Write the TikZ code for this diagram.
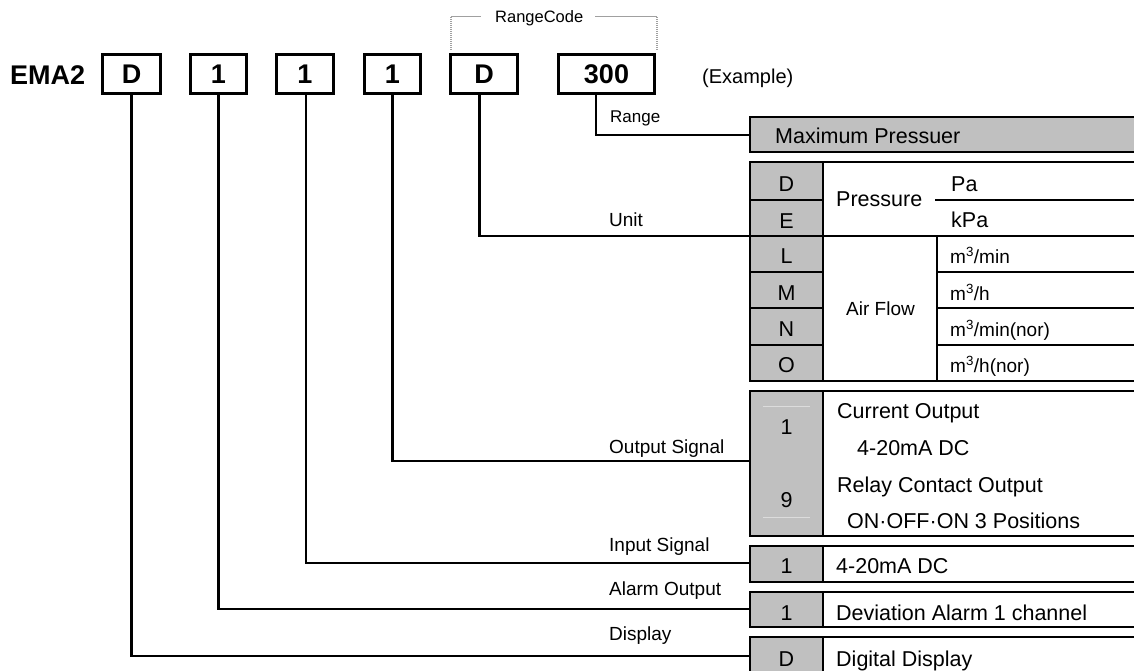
\documentclass[tikz,border=0pt]{standalone}
\usepackage{fontspec}
\setmainfont{Liberation Sans}
\newcommand\fsz[1]{\fontsize{#1}{#1}\selectfont}
\definecolor{tabgray}{HTML}{C0C0C0}
\definecolor{faint}{HTML}{DCDCDC}
\definecolor{brkgray}{HTML}{A0A0A0}
\begin{document}
\begin{tikzpicture}[x=1pt,y=-1pt,
  topbox/.style={draw, line width=3.3pt, inner sep=0pt, font=\bfseries\fsz{27}},
  conn/.style={line width=2.3pt},
  tl/.style={line width=2.4pt},
  lbl/.style={anchor=base west, inner sep=0pt, font=\fsz{19}},
  cell/.style={anchor=base west, inner sep=0pt, font=\fsz{21.5}},
  codetxt/.style={anchor=base, inner sep=0pt, font=\fsz{21.5}},
  unit/.style={anchor=base west, inner sep=0pt, font=\fsz{19}},
  brk/.style={brkgray, line width=1pt},
  brkdot/.style={brkgray, line width=1.6pt, dash pattern=on 1pt off 1pt}]
\useasboundingbox (0,0) rectangle (1134,671);
\fill[white] (0,0) rectangle (1134,671);

% ---------- model code row ----------
\node[anchor=base west, inner sep=0pt, font=\bfseries\fsz{27}] (ema) at (10,85) {EMA2};
\node[topbox, minimum width=58pt, minimum height=39pt] (bA) at (131.5,74) {D};
\node[topbox, minimum width=56pt, minimum height=39pt] (bB) at (218.5,74) {1};
\node[topbox, minimum width=57pt, minimum height=39pt] (bC) at (305,74) {1};
\node[topbox, minimum width=56pt, minimum height=39pt] (bD) at (392.5,74) {1};
\node[topbox, minimum width=67pt, minimum height=39pt] (bE) at (484,74) {D};
\node[topbox, minimum width=96pt, minimum height=39pt] (bF) at (606.5,74) {300};
\node[anchor=base west, inner sep=0pt, font=\fsz{20}] (ex) at (702,84) {(Example)};

% ---------- RangeCode bracket ----------
\node[anchor=base west, inner sep=0pt, font=\fsz{16.5}] (rc) at (495,23) {RangeCode};
\coordinate (rl) at (451,50);
\coordinate (rr) at (657,50);
\draw[brkdot] (rl) -- (451,17);
\draw[brk] (451,17) -- ([xshift=-14pt]rc.west |- 451,17);
\draw[brk] ([xshift=12pt]rc.east |- 451,17) -- (657,17);
\draw[brkdot] (657,17) -- (rr);

% ---------- entry points of the table ----------
\coordinate (eRange) at (750,135);
\coordinate (eUnit) at (750,236);
\coordinate (eOut) at (750,461);
\coordinate (eIn) at (750,563);
\coordinate (eAlarm) at (750,609);
\coordinate (eDisp) at (750,656);

% ---------- Range: maximum pressure ----------
\fill[tabgray] (750,117) rectangle (1140,152);
\draw[tl] (1140,117) -- (750,117) -- (750,152) -- (1140,152);
\node[cell] (maxp) at (775,144) {Maximum Pressuer};

% ---------- Unit table ----------
\fill[tabgray] (750,162) rectangle (823,381);
\draw[tl] (1140,162) -- (750,162) -- (750,381) -- (1140,381);
\draw[tl] (823,162) -- (823,381);
\draw[tl] (750,236) -- (1140,236);
\foreach \yy in {200,272,308,345} \draw[tl] (750,\yy) -- (823,\yy);
\draw[tl] (935,200) -- (1140,200);
\draw[tl] (937,236) -- (937,381);
\foreach \yy in {272,308,345} \draw[tl] (937,\yy) -- (1140,\yy);
\node[codetxt] (cD) at (786.5,192) {D};
\node[codetxt] (cE) at (786.5,228) {E};
\node[codetxt] (cL) at (786.5,263) {L};
\node[codetxt] (cM) at (786.5,300.5) {M};
\node[codetxt] (cN) at (786.5,336.5) {N};
\node[codetxt] (cO) at (786.5,372.5) {O};
\node[cell] (press) at (836,207) {Pressure};
\node[cell] (pa) at (951,191.5) {Pa};
\node[cell] (kpa) at (951,227) {kPa};
\node[unit] (air) at (846,315) {Air Flow};
\node[unit] (u1) at (950,263) {m\textsuperscript{3}/min};
\node[unit] (u2) at (950,300) {m\textsuperscript{3}/h};
\node[unit] (u3) at (950,336) {m\textsuperscript{3}/min(nor)};
\node[unit] (u4) at (950,372) {m\textsuperscript{3}/h(nor)};

% ---------- Output signal table ----------
\fill[tabgray] (750,391) rectangle (823,536);
\draw[tl] (1140,391) -- (750,391) -- (750,536);
\draw[tl] (749,536) -- (1140,536);
\draw[tl] (823,391) -- (823,536);
\draw[faint, line width=1pt] (763,406) -- (810,406);
\draw[faint, line width=1pt] (763,517) -- (810,517);
\node[codetxt] (o1) at (786.5,434) {1};
\node[codetxt] (o9) at (786.5,507) {9};
\node[cell] (co1) at (837,418) {Current Output};
\node[cell] (co2) at (857,455) {4-20mA DC};
\node[cell] (rc1) at (837,492) {Relay Contact Output};
\node[cell] (rc2) at (847,528) {ON·OFF·ON 3 Positions};

% ---------- Input signal ----------
\fill[tabgray] (750,546) rectangle (823,582);
\draw[tl] (1140,546) -- (750,546) -- (750,582);
\draw[tl] (749,582) -- (1140,582);
\draw[tl] (823,546) -- (823,582);
\node[codetxt] (i1) at (786.5,573) {1};
\node[cell] (it) at (836,573) {4-20mA DC};

% ---------- Alarm output ----------
\fill[tabgray] (750,592) rectangle (823,627);
\draw[tl] (1140,592) -- (750,592) -- (750,627);
\draw[tl] (749,627) -- (1140,627);
\draw[tl] (823,592) -- (823,627);
\node[codetxt] (a1) at (786.5,620) {1};
\node[cell] (at) at (836,620) {Deviation Alarm 1 channel};

% ---------- Display ----------
\fill[tabgray] (750,637) rectangle (823,680);
\draw[tl] (1140,637) -- (750,637) -- (750,680);
\draw[tl] (823,637) -- (823,680);
\node[codetxt] (d1) at (786.5,666.5) {D};
\node[cell] (dt) at (836,666.5) {Digital Display};

% ---------- labels ----------
\node[anchor=base west, inner sep=0pt, font=\fsz{17}] (lRange) at (610,123) {Range};
\node[lbl] (lUnit) at (609,226.5) {Unit};
\node[lbl] (lOut) at (609,453) {Output Signal};
\node[lbl] (lIn) at (609,551) {Input Signal};
\node[lbl] (lAl) at (609,595) {Alarm Output};
\node[lbl] (lDi) at (609,640) {Display};

% ---------- connectors ----------
\draw[conn] ([xshift=-10.5pt]bF.south) |- (eRange);
\draw[conn] ([xshift=-4.5pt]bE.south) |- (eUnit);
\draw[conn] (bD.south) |- (eOut);
\draw[conn] ([xshift=1pt]bC.south) |- (eIn);
\draw[conn] (bB.south) |- (eAlarm);
\draw[conn] (bA.south) |- (eDisp);
\end{tikzpicture}
\end{document}
